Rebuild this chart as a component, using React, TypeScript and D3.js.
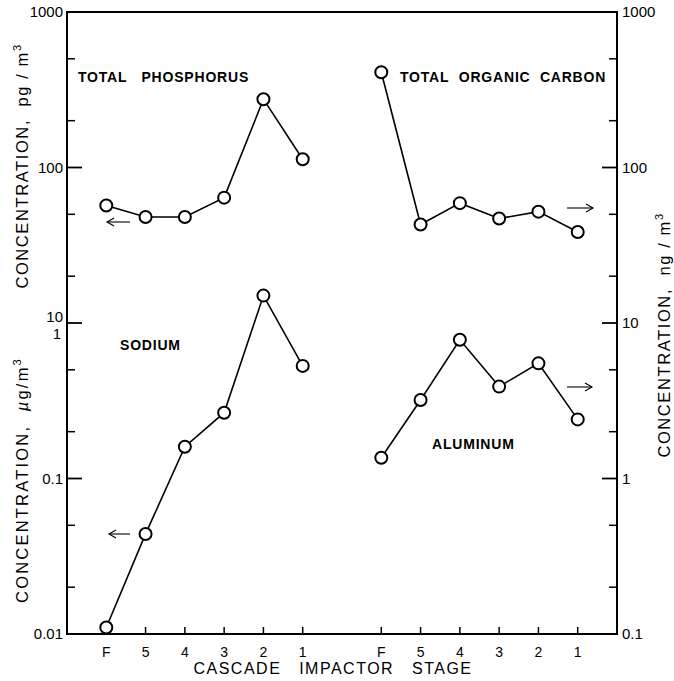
import * as d3 from 'd3';

// stage labels, left panel then right panel
const stages = ['F', '5', '4', '3', '2', '1'];
const leftIdx = [0, 1, 2, 3, 4, 5];
const rightIdx = [7, 8, 9, 10, 11, 12];

// values
const phosphorus = [57, 48, 48, 64, 275, 113]; // pg/m3
const sodium = [0.011, 0.044, 0.16, 0.265, 1.5, 0.53]; // ug/m3
const organicCarbon = [410, 43, 59, 47, 52, 38.5]; // ng/m3
const aluminum = [1.36, 3.2, 7.8, 3.9, 5.5, 2.4]; // ng/m3

const leftTicks = ['1000', '100', '10', '0.1', '0.01'];
const leftTickVals = [1000, 100, 10, 0.1, 0.01]; // 0.1/0.01 are on the sodium scale
const rightTicks = [1000, 100, 10, 1, 0.1];

const W = 674;
const H = 681;
const L = 67, R = 617, T = 12, B = 634;
const FONT = 'Liberation Sans, Arial, sans-serif';

const x = d3.scaleLinear().domain([-1, 13]).range([L, R]);
const yTP = d3.scaleLog().domain([0.1, 1000]).range([B, T]); // pg/m3
const yNa = d3.scaleLog().domain([0.01, 100]).range([B, T]); // ug/m3
const yR = d3.scaleLog().domain([0.1, 1000]).range([B, T]); // ng/m3

// minor ticks at 2x and 5x of each decade
const minorVals = d3.range(-1, 3).flatMap(e => [2 * 10 ** e, 5 * 10 ** e]);

function Series({ idx, vals, y }: { idx: number[]; vals: number[]; y: any }) {
  const line = d3.line<number>().x((_, i) => x(idx[i])).y(v => y(v));
  return (
    <g>
      <path d={line(vals) || ''} fill="none" stroke="#000" strokeWidth={1.6} />
      {vals.map((v, i) => (
        <circle key={i} cx={x(idx[i])} cy={y(v)} r={6} fill="#fff" stroke="#000" strokeWidth={2} />
      ))}
    </g>
  );
}

function Arrow({ x1, x2, yy }: { x1: number; x2: number; yy: number }) {
  const dir = x2 > x1 ? 1 : -1;
  return (
    <g stroke="#000" strokeWidth={1.1} fill="none">
      <line x1={x1} y1={yy} x2={x2} y2={yy} />
      <path d={`M${x2 - dir * 7},${yy - 4} L${x2},${yy} L${x2 - dir * 7},${yy + 4}`} />
    </g>
  );
}

export default function App() {
  return (
    <svg width={W} height={H} style={{ position: 'absolute', left: 0, top: 0, background: '#fff' }} fontFamily={FONT}>
      <rect x={0} y={0} width={W} height={H} fill="#fff" />
      {/* frame */}
      <rect x={L} y={T} width={R - L} height={B - T} fill="none" stroke="#000" strokeWidth={2} />

      {/* left axis ticks */}
      {leftTickVals.map((v, i) => {
        const yy = v < 1 ? yNa(v) : yTP(v);
        return <line key={'lm' + i} x1={L} x2={L + 15} y1={yy} y2={yy} stroke="#000" strokeWidth={1.8} />;
      })}
      {minorVals.map((v, i) => (
        <line key={'ln' + i} x1={L} x2={L + 8} y1={yTP(v)} y2={yTP(v)} stroke="#000" strokeWidth={1.5} />
      ))}
      {leftTicks.map((t, i) => {
        const v = leftTickVals[i];
        const yy = v < 1 ? yNa(v) : yTP(v);
        return (
          <text key={'lt' + i} x={L - 4} y={t === '10' ? yy - 1 : yy + 5} textAnchor="end" fontSize={15}>{t}</text>
        );
      })}
      <text x={L - 6} y={yNa(1) + 16} textAnchor="end" fontSize={15}>1</text>

      {/* right axis ticks */}
      {rightTicks.map((v, i) => (
        <g key={'r' + i}>
          <line x1={R - 15} x2={R} y1={yR(v)} y2={yR(v)} stroke="#000" strokeWidth={1.8} />
          <text x={R + 5} y={yR(v) + 5} fontSize={15}>{d3.format('~g')(v)}</text>
        </g>
      ))}
      {minorVals.map((v, i) => (
        <line key={'rn' + i} x1={R - 8} x2={R} y1={yR(v)} y2={yR(v)} stroke="#000" strokeWidth={1.5} />
      ))}

      {/* bottom ticks */}
      {[...leftIdx, ...rightIdx].map((k, i) => (
        <g key={'b' + i}>
          <line x1={x(k)} x2={x(k)} y1={B} y2={B - 7} stroke="#000" strokeWidth={1.5} />
          <text x={x(k)} y={B + 23} textAnchor="middle" fontSize={14}>{stages[i % 6]}</text>
        </g>
      ))}
      <text x={333} y={B + 40} textAnchor="middle" fontSize={16} letterSpacing={1.5}>
        CASCADE{'\u00a0\u00a0\u00a0'}IMPACTOR{'\u00a0\u00a0\u00a0'}STAGE
      </text>

      {/* axis titles */}
      <text transform={`translate(28,166) rotate(-90)`} textAnchor="middle" fontSize={16.5} letterSpacing={1.6}>
        CONCENTRATION,{'\u00a0\u00a0'}pg / m<tspan dy={-7} fontSize={11}>3</tspan>
      </text>
      <text transform={`translate(28,480) rotate(-90)`} textAnchor="middle" fontSize={16.5} letterSpacing={2.2}>
        CONCENTRATION,{'\u00a0\u00a0'}<tspan fontStyle="italic">µ</tspan>g/m<tspan dy={-7} fontSize={11}>3</tspan>
      </text>
      <text transform={`translate(670,335) rotate(-90)`} textAnchor="middle" fontSize={16.5} letterSpacing={1.6}>
        CONCENTRATION,{'\u00a0\u00a0'}ng / m<tspan dy={-7} fontSize={11}>3</tspan>
      </text>

      {/* series */}
      <Series idx={leftIdx} vals={phosphorus} y={yTP} />
      <Series idx={leftIdx} vals={sodium} y={yNa} />
      <Series idx={rightIdx} vals={organicCarbon} y={yR} />
      <Series idx={rightIdx} vals={aluminum} y={yR} />

      {/* labels */}
      <g fontWeight="bold" fontSize={14} letterSpacing={0.8}>
        <text x={78} y={82}>TOTAL{'\u00a0\u00a0\u00a0'}PHOSPHORUS</text>
        <text x={400} y={82}>TOTAL{'\u00a0\u00a0'}ORGANIC{'\u00a0\u00a0'}CARBON</text>
        <text x={120} y={350}>SODIUM</text>
        <text x={432} y={449}>ALUMINUM</text>
      </g>

      <Arrow x1={130} x2={107} yy={222} />
      <Arrow x1={130} x2={109} yy={534} />
      <Arrow x1={567} x2={593} yy={208} />
      <Arrow x1={567} x2={592} yy={387} />
    </svg>
  );
}
